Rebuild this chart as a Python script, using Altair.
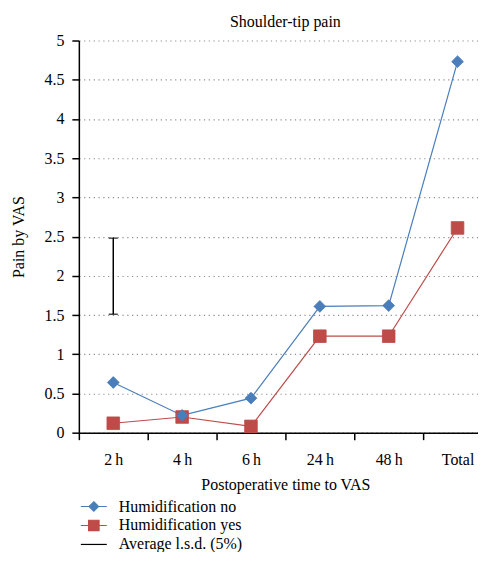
import altair as alt
import pandas as pd

categories = ["2\u2009h", "4\u2009h", "6\u2009h", "24\u2009h", "48\u2009h", "Total"]
humid_no = [0.64, 0.22, 0.44, 1.61, 1.62, 4.73]
humid_yes = [0.12, 0.20, 0.08, 1.23, 1.23, 2.61]
lsd_category = "2\u2009h"
lsd_low = 1.51
lsd_high = 2.48
series_names = ["Humidification no", "Humidification yes", "Average l.s.d. (5%)"]
series_colors = ["#4A7EBB", "#BE4B48", "#000000"]
y_ticks = [0, 0.5, 1, 1.5, 2, 2.5, 3, 3.5, 4, 4.5, 5]

FONT = "Liberation Serif"
FS = 16

rows = []
for c, v in zip(categories, humid_no):
    rows.append({"time": c, "pain": v, "series": series_names[0]})
for c, v in zip(categories, humid_yes):
    rows.append({"time": c, "pain": v, "series": series_names[1]})
df = pd.DataFrame(rows)
lsd_df = pd.DataFrame({"time": [lsd_category], "low": [lsd_low], "high": [lsd_high]})
lsd_ends = pd.DataFrame({"time": [lsd_category, lsd_category], "pain": [lsd_low, lsd_high]})

xenc = alt.X(
    "time:N",
    sort=categories,
    bandPosition=0.5,
    scale=alt.Scale(type="band", domain=categories, paddingInner=0, paddingOuter=0),
    axis=alt.Axis(
        title="Postoperative time to VAS",
        tickBand="extent",
        labelAngle=0,
        domainColor="#000000",
        tickColor="#000000",
        tickSize=7,
        tickWidth=1.5,
        domainWidth=1.5,
        labelPadding=12,
        titlePadding=9,
        grid=False,
    ),
)
yscale = alt.Scale(domain=[0, 5], nice=False)
yaxis = alt.Axis(
    title="Pain by VAS",
    values=y_ticks,
    labelExpr="'' + datum.value",
    domainColor="#000000",
    tickColor="#000000",
    tickSize=7,
    tickWidth=1.5,
    domainWidth=1.5,
    labelPadding=8,
    titlePadding=17,
    grid=True,
    gridColor="#8c8c8c",
    gridDash=[1.2, 3.6],
    gridWidth=1.2,
)
yenc = alt.Y("pain:Q", scale=yscale, axis=yaxis)

base = alt.Chart(df)


def series_line(i):
    return base.transform_filter(alt.datum.series == series_names[i]).mark_line(
        color=series_colors[i], strokeWidth=1.2
    ).encode(x=xenc, y=yenc)


def series_points(i, shape, size):
    return base.transform_filter(alt.datum.series == series_names[i]).mark_point(
        filled=True, opacity=1, shape=shape, size=size, color=series_colors[i], strokeWidth=0.8,
        stroke=series_colors[i],
    ).encode(x=xenc, y=yenc)


legend_shapes = [
    "M-2.6,0H2.6M0,-0.95L0.95,0L0,0.95L-0.95,0Z",
    "M-2.6,0H2.6M-1.05,-1.05H1.05V1.05H-1.05Z",
    "M-2.6,0H2.6",
]
legend_props = dict(
    title=None,
    orient="none",
    legendX=7,
    legendY=459,
    direction="vertical",
    labelFont=FONT,
    labelFontSize=FS,
    labelColor="#000000",
    symbolSize=100,
    symbolStrokeWidth=1.2,
    labelOffset=17,
    rowPadding=3,
    labelLimit=300,
    values=series_names,
)

legend_layer = base.transform_filter("false").mark_point(filled=True, opacity=1).encode(
    x=xenc,
    y=yenc,
    color=alt.Color("series:N", scale=alt.Scale(domain=series_names, range=series_colors),
                    legend=alt.Legend(**legend_props)),
    stroke=alt.Stroke("series:N", scale=alt.Scale(domain=series_names, range=series_colors),
                      legend=alt.Legend(**legend_props)),
    shape=alt.Shape("series:N", scale=alt.Scale(domain=series_names, range=legend_shapes),
                    legend=alt.Legend(**legend_props)),
)

lsd_rule = alt.Chart(lsd_df).mark_rule(color="#000000", strokeWidth=1.5).encode(
    x=xenc,
    y=alt.Y("low:Q", scale=yscale, axis=yaxis),
    y2="high:Q",
)
lsd_caps = alt.Chart(lsd_ends).mark_tick(color="#000000", orient="horizontal", size=9, thickness=1.5).encode(
    x=xenc,
    y=yenc,
)

chart = alt.layer(
    series_line(0), series_line(1), lsd_rule, lsd_caps,
    series_points(1, "square", 160), series_points(0, "diamond", 140), legend_layer,
).properties(
    width=414,
    height=393,
    padding={"left": 3, "top": 5, "right": -15, "bottom": -1},
    title=alt.Title("Shoulder-tip pain", font=FONT, fontSize=FS, fontWeight="normal", offset=3, color="#000000"),
).configure_view(stroke=None).configure_axis(
    labelFont=FONT,
    labelFontSize=FS,
    labelColor="#000000",
    titleFont=FONT,
    titleFontSize=FS,
    titleFontWeight="normal",
    titleColor="#000000",
)

chart.save("out.html", embed_options={"renderer": "svg", "actions": False})
